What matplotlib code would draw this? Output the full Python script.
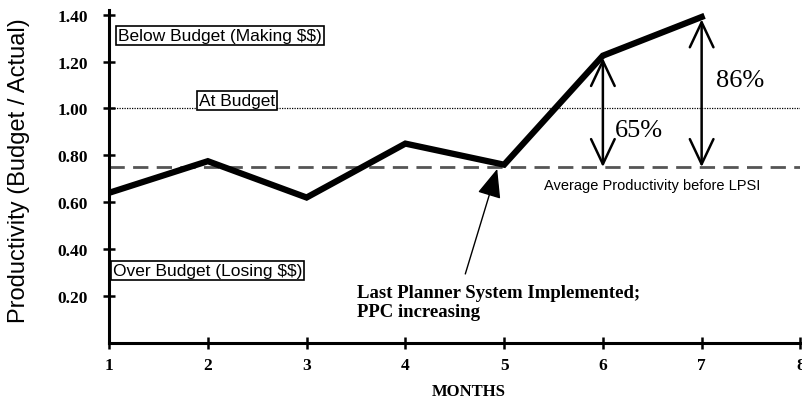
import numpy as np
import matplotlib.pyplot as plt

# data
months = [1, 2, 3, 4, 5, 6, 7]
productivity = [0.64, 0.775, 0.62, 0.85, 0.76, 1.225, 1.39]
avg_before = 0.75
at_budget = 1.00
x_ticks = [1, 2, 3, 4, 5, 6, 7, 8]
y_ticks = [0.20, 0.40, 0.60, 0.80, 1.00, 1.20, 1.40]
gains = {6: '65%', 7: '86%'}

serif = ['Liberation Serif', 'DejaVu Serif']
sans = ['Liberation Sans', 'DejaVu Sans']

fig = plt.figure(figsize=(8.02, 4.06), dpi=100)
ax = fig.add_axes([0.136, 0.153, 0.862, 0.82])

ax.plot(months, productivity, color='black', lw=4.5, solid_joinstyle='miter', zorder=5)
ax.axhline(avg_before, color='#555555', lw=2, dashes=(5.5, 3))
ax.axhline(at_budget, color='black', lw=0.9, ls=(0, (1, 1)))

# double headed arrows from the average to months 6 and 7
for m in gains:
    top = productivity[months.index(m)] - 0.01
    ax.annotate('', xy=(m, top), xytext=(m, avg_before),
                arrowprops=dict(arrowstyle='<->,head_length=1.8,head_width=0.85',
                                color='black', lw=1.8, shrinkA=0, shrinkB=0))
ax.text(6.12, 0.91, gains[6], fontsize=19, family=serif, va='center')
ax.text(7.15, 1.12, gains[7], fontsize=19, family=serif, va='center')

ax.text(6.5, 0.675, 'Average Productivity before LPSI', fontsize=10.5,
        family=sans, ha='center', va='center')

# pointer to month 5
ax.annotate('', xy=(4.93, 0.742), xytext=(4.607, 0.294),
            arrowprops=dict(arrowstyle='-|>,head_length=1.8,head_width=0.75',
                            color='black', lw=1, shrinkA=0, shrinkB=0))
ax.text(3.51, 0.175, 'Last Planner System Implemented;\nPPC increasing',
        fontsize=13.5, family=serif, fontweight='bold', va='center',
        linespacing=1.1)

box = dict(boxstyle='square,pad=0.12', fc='white', ec='black', lw=1.2)
ax.text(1.09, 1.31, r'Below Budget (Making \$\$)', fontsize=12.5, family=sans,
        va='center', bbox=box)
ax.text(1.91, 1.035, 'At Budget', fontsize=12.5, family=sans, va='center', bbox=box)
ax.text(1.04, 0.31, r'Over Budget (Losing \$\$)', fontsize=12.5, family=sans,
        va='center', bbox=box)

ax.set_xlim(1, 8)
ax.set_ylim(0, 1.42)
ax.set_xticks(x_ticks)
ax.set_xticklabels([str(t) for t in x_ticks], family=serif, fontweight='bold', fontsize=12.5)
ax.set_yticks(y_ticks)
ax.set_yticklabels(['%.2f' % t for t in y_ticks], family=serif, fontweight='bold', fontsize=12.5)
ax.tick_params(direction='inout', length=8, width=1.8)
ax.tick_params(axis='y', pad=11)
ax.tick_params(axis='x', pad=6)
for s in ['top', 'right']:
    ax.spines[s].set_visible(False)
for s in ['left', 'bottom']:
    ax.spines[s].set_linewidth(2.2)

ax.set_xlabel('MONTHS', family=serif, fontweight='bold', fontsize=12)
ax.xaxis.set_label_coords(0.52, -0.12)
ax.set_ylabel('Productivity (Budget / Actual)', family=sans, fontsize=17)
ax.yaxis.set_label_coords(-0.114, 0.52)

fig.savefig('out.png', dpi=100)
